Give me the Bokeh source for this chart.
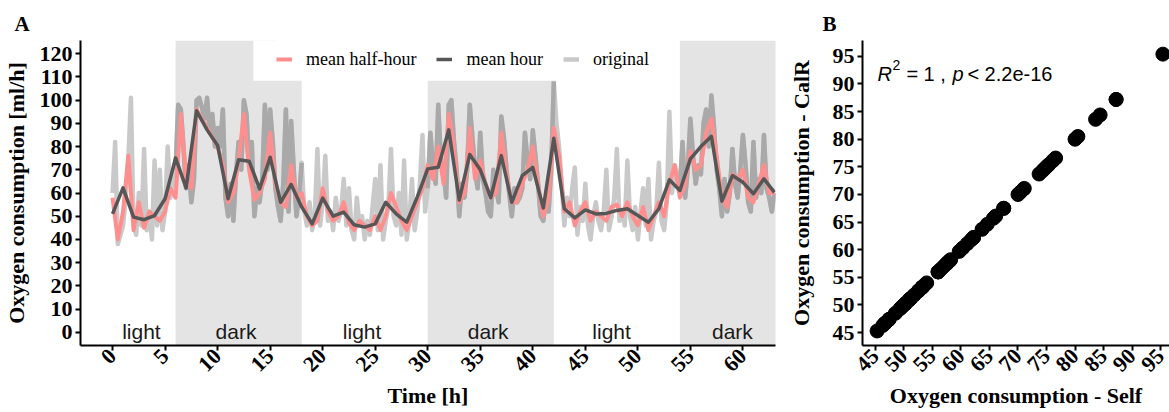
import math
from bokeh.plotting import figure
from bokeh.models import BoxAnnotation, Legend, LegendItem, Label, FixedTicker, Range1d
from bokeh.layouts import row
from bokeh.embed import file_html
from bokeh.resources import INLINE
from bokeh.core.properties import value

# ---------------- data ----------------
# hourly mean oxygen consumption (ml/h), one value per hour from 0 h
mean_hour = [51, 62.2, 49.6, 48.5, 50.3, 57.5, 75.1, 62.2, 95.4, 87.2,
             80.5, 57.5, 74.3, 73.7, 61.8, 75.4, 56, 63.7, 54, 46.7,
             57.8, 50, 51.8, 46.3, 45.3, 46.7, 56, 51, 47.4, 58.2,
             70.4, 71.1, 87.2, 57, 76.6, 70, 58, 76.1, 56, 67.5,
             71, 53.5, 83.6, 53.2, 49.3, 52.7, 51, 51.2, 52.5, 53.2,
             50.3, 47.4, 53.2, 65.7, 61.1, 74.7, 80, 84.4, 56.5, 67.5,
             64.6, 59.7, 66.1, 60.3]

# half-hour means, one value per 30 min from 0 h
mean_half_hour = [58, 40, 52, 76, 44, 56, 45, 52, 50, 48,
                  52, 62, 58, 94, 66, 62, 96, 92, 88, 84,
                  80, 72, 56, 60, 74, 94, 70, 57, 60, 66,
                  86, 64, 56, 54, 72, 58, 60, 50, 46, 48,
                  62, 52, 48, 50, 56, 47, 44, 48, 46, 44,
                  50, 44, 50, 60, 54, 48, 44, 50, 56, 62,
                  72, 66, 80, 64, 94, 80, 56, 60, 88, 66,
                  74, 64, 58, 60, 86, 68, 56, 56, 64, 70,
                  80, 64, 50, 58, 88, 76, 52, 56, 46, 52,
                  56, 48, 52, 50, 48, 54, 55, 50, 56, 50,
                  46, 54, 44, 50, 56, 50, 64, 72, 58, 64,
                  78, 70, 72, 86, 92, 76, 58, 54, 68, 66,
                  70, 58, 56, 64, 72, 60, 60]

# original measurements, one value per 15 min from 0 h
original = [60, 82, 38, 42, 46, 58, 74, 101, 46, 42, 60, 46, 79, 44, 52, 40,
            74, 46, 70, 44, 52, 80, 58, 64, 70, 98, 96, 80, 62, 72, 56, 66,
            100, 101, 97, 92, 101, 86, 94, 80, 88, 80, 96, 58, 50, 64, 48, 68,
            82, 70, 100, 94, 72, 82, 50, 62, 56, 66, 98, 70, 96, 82, 62, 54,
            48, 64, 96, 52, 91, 70, 50, 58, 73, 52, 46, 56, 44, 50, 79, 46,
            56, 76, 48, 52, 44, 58, 48, 52, 66, 46, 62, 44, 40, 58, 46, 50,
            40, 48, 42, 54, 66, 44, 72, 40, 48, 54, 79, 50, 46, 60, 42, 74,
            40, 48, 66, 44, 52, 64, 85, 52, 62, 86, 72, 64, 98, 74, 70, 58,
            98, 100, 82, 70, 50, 64, 58, 70, 98, 84, 70, 62, 86, 66, 60, 52,
            50, 70, 62, 56, 93, 84, 70, 60, 50, 62, 56, 58, 62, 86, 74, 66,
            87, 76, 64, 50, 48, 58, 52, 70, 108, 90, 80, 64, 46, 58, 50, 62,
            71, 42, 54, 48, 64, 46, 40, 50, 56, 48, 44, 52, 70, 44, 50, 58,
            79, 48, 52, 46, 74, 50, 44, 54, 40, 52, 62, 46, 66, 40, 48, 52,
            73, 48, 44, 56, 95, 60, 72, 68, 62, 82, 58, 70, 92, 76, 64, 72,
            68, 90, 96, 80, 102, 88, 70, 62, 50, 66, 52, 60, 79, 64, 58, 70,
            85, 72, 56, 52, 82, 58, 66, 60, 85, 62, 58, 52, 60]

dark_start = [6, 30, 54]
dark_end = [18, 42, 66]
phase_labels = ["light", "dark", "light", "dark", "light", "dark"]
phase_label_x = [2.75, 11.75, 23.75, 35.75, 47.5, 59]

# panel B: hourly means computed by own script vs CalR
self_o2 = list(mean_hour)
calr_o2 = list(mean_hour)

hour_time = [float(i) for i in range(len(mean_hour))]
half_time = [i * 0.5 for i in range(len(mean_half_hour))]
orig_time = [i * 0.25 for i in range(len(original))]

def in_dark(t):
    return any(s <= t <= e for s, e in zip(dark_start, dark_end))

original_dark = [v if in_dark(t) else float("nan") for t, v in zip(orig_time, original)]

SERIF = "Liberation Serif"
SANS = "Liberation Sans"

def style_axes(p, tick_size="22px", title_size="22px"):
    for ax in (p.xaxis, p.yaxis):
        ax.axis_line_color = "black"
        ax.axis_line_width = 2
        ax.major_tick_line_color = "black"
        ax.major_tick_line_width = 2
        ax.major_tick_in = 0
        ax.major_tick_out = 5
        ax.minor_tick_line_color = None
        ax.major_label_text_font = SERIF
        ax.major_label_text_font_style = "bold"
        ax.major_label_text_font_size = tick_size
        ax.major_label_text_color = "black"
        ax.axis_label_text_font = SERIF
        ax.axis_label_text_font_style = "bold"
        ax.axis_label_text_font_size = title_size
        ax.axis_label_text_color = "black"
    p.xgrid.visible = False
    p.ygrid.visible = False
    p.outline_line_color = None

def style_title(p, offset):
    p.title.text_font = SERIF
    p.title.text_font_style = "bold"
    p.title.text_font_size = "21px"
    p.title.text_color = "black"
    p.title.align = "left"
    p.title.offset = offset

# ---------------- panel A ----------------
pA = figure(width=785, height=412, output_backend="svg", toolbar_location=None,
            x_range=Range1d(-3.05, 63.1), y_range=Range1d(-5.7, 125.7),
            min_border_left=79, min_border_right=10, min_border_top=40, min_border_bottom=67,
            title="A")
style_title(pA, -66)

for s, e in zip(dark_start, dark_end):
    pA.add_layout(BoxAnnotation(left=s, right=e, fill_color="#E4E4E4", fill_alpha=1,
                                line_color=None, level="underlay"))

r_orig = pA.line(orig_time, original, line_color="#C9C9C9", line_width=4.5, line_join="round")
pA.line(orig_time, original_dark, line_color="#A9A9A9", line_width=4.5, line_join="round")
r_half = pA.line(half_time, mean_half_hour, line_color="#FF8F8F", line_width=4, line_join="round")
r_hour = pA.line(hour_time, mean_hour, line_color="#565656", line_width=3.5, line_join="round")

pA.text(x=phase_label_x, y=[0.5] * len(phase_labels), text=phase_labels,
        text_font=value(SANS), text_font_size="21px", text_align="center",
        text_baseline="middle", text_color="#1a1a1a")

# white background panel of the legend (wider than the legend items)
pA.add_layout(BoxAnnotation(left=13.4, right=51.7, bottom=108.4, fill_color="white",
                            fill_alpha=1, line_color=None))

legend = Legend(items=[LegendItem(label="mean half-hour", renderers=[r_half]),
                       LegendItem(label="mean hour", renderers=[r_hour]),
                       LegendItem(label="original", renderers=[r_orig])],
                orientation="horizontal", location=(196, 265))
legend.label_text_font = SERIF
legend.label_text_font_size = "18px"
legend.label_text_color = "black"
legend.glyph_width = 16
legend.glyph_height = 42
legend.label_height = 42
legend.label_standoff = 14
legend.spacing = 20
legend.padding = 0
legend.margin = 0
legend.border_line_color = None
legend.background_fill_color = "white"
legend.background_fill_alpha = 1
pA.add_layout(legend)

style_axes(pA)
pA.xaxis.ticker = FixedTicker(ticks=list(range(0, 61, 5)))
pA.yaxis.ticker = FixedTicker(ticks=list(range(0, 121, 10)))
pA.xaxis.major_label_orientation = math.pi / 4
pA.xaxis.axis_label = "Time [h]"
pA.yaxis.axis_label = "Oxygen consumption [ml/h]"
pA.yaxis.major_label_standoff = 3
pA.yaxis.axis_label_standoff = 8
pA.xaxis.major_label_standoff = 2
pA.xaxis.axis_label_standoff = 2

# ---------------- panel B ----------------
pB = figure(width=384, height=412, output_backend="svg", toolbar_location=None,
            x_range=Range1d(42.74, 96.56), y_range=Range1d(42.67, 97.87),
            min_border_left=74, min_border_right=0, min_border_top=37, min_border_bottom=67,
            title="B")
style_title(pB, -40)

pB.scatter(self_o2, calr_o2, size=14, fill_color="black", line_color="black")

lab_kw = dict(x=45.35, y=91.85, text_font=SANS, text_font_size="20px",
              text_color="black", text_baseline="alphabetic")
pB.add_layout(Label(text="R", x_offset=0, text_font_style="italic", **lab_kw))
pB.add_layout(Label(text="2", x_offset=15, y_offset=9, **{**lab_kw, "text_font_size": "14px"}))
pB.add_layout(Label(text="= 1 ,", x_offset=29, **lab_kw))
pB.add_layout(Label(text="p", x_offset=75, text_font_style="italic", **lab_kw))
pB.add_layout(Label(text="< 2.2e-16", x_offset=90, **lab_kw))

style_axes(pB)
pB.xaxis.ticker = FixedTicker(ticks=list(range(45, 96, 5)))
pB.yaxis.ticker = FixedTicker(ticks=list(range(45, 96, 5)))
pB.xaxis.major_label_orientation = math.pi / 4
pB.xaxis.axis_label = "Oxygen consumption - Self"
pB.yaxis.axis_label = "Oxygen consumption - CalR"
pB.yaxis.major_label_standoff = 3
pB.yaxis.axis_label_standoff = 16
pB.xaxis.major_label_standoff = 2
pB.xaxis.axis_label_standoff = 2

layout = row(pA, pB)
open("out.html", "w").write(file_html(layout, INLINE))
